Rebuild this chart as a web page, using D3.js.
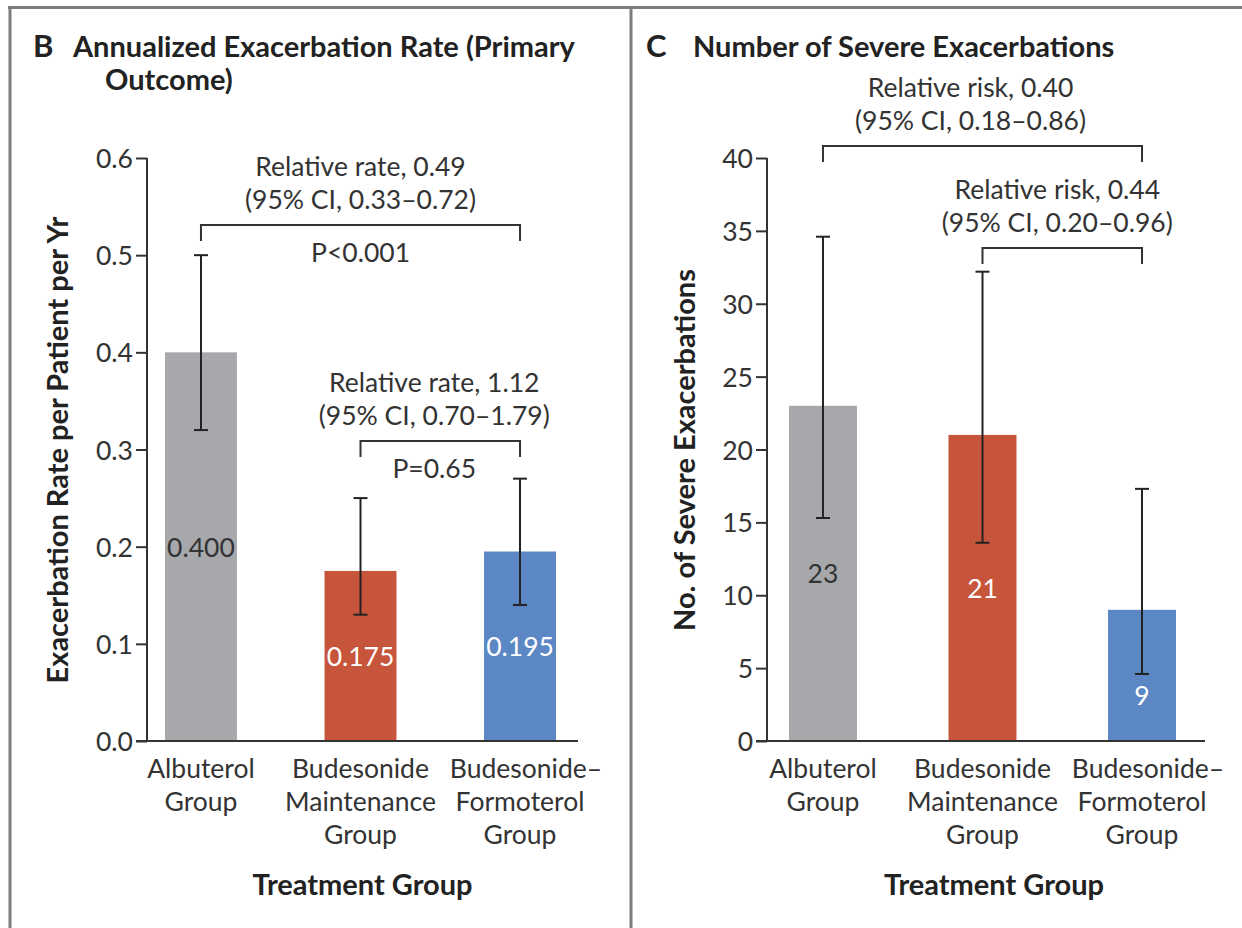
<!DOCTYPE html>
<html>
<head>
<meta charset="utf-8">
<script src="https://cdn.jsdelivr.net/npm/d3@7"></script>
<style>
  html, body { margin: 0; padding: 0; background: #fff; }
  svg { display: block; font-family: Lato, "Open Sans", sans-serif; }
</style>
</head>
<body>
<svg id="chart" width="1242" height="928"></svg>
<script>
// ---------- DATA ----------
const categories = [
  ["Albuterol", "Group"],
  ["Budesonide", "Maintenance", "Group"],
  ["Budesonide\u2013", "Formoterol", "Group"]
];
const categoryKeys = ["Albuterol", "Budesonide Maintenance", "Budesonide-Formoterol"];

const rateValues = [0.400, 0.175, 0.195];
const rateLow = [0.32, 0.13, 0.14];
const rateHigh = [0.50, 0.25, 0.27];
const rateLabels = ["0.400", "0.175", "0.195"];
const rateTicks = [0.0, 0.1, 0.2, 0.3, 0.4, 0.5, 0.6];
const rateTickLabels = ["0.0", "0.1", "0.2", "0.3", "0.4", "0.5", "0.6"];

const countValues = [23, 21, 9];
const countLow = [15.3, 13.6, 4.6];
const countHigh = [34.6, 32.2, 17.3];
const countLabels = ["23", "21", "9"];
const countTicks = [0, 5, 10, 15, 20, 25, 30, 35, 40];
const countTickLabels = ["0", "5", "10", "15", "20", "25", "30", "35", "40"];

const barColors = ["#a7a8ac", "#c6553b", "#5b87c4"];
const labelColors = ["#333333", "#ffffff", "#ffffff"];

const rateComparisons = [
  { from: 0, to: 2, lines: ["Relative rate, 0.49", "(95% CI, 0.33\u20130.72)"], p: "P<0.001" },
  { from: 1, to: 2, lines: ["Relative rate, 1.12", "(95% CI, 0.70\u20131.79)"], p: "P=0.65" }
];
const countComparisons = [
  { from: 0, to: 2, lines: ["Relative risk, 0.40", "(95% CI, 0.18\u20130.86)"], p: null },
  { from: 1, to: 2, lines: ["Relative risk, 0.44", "(95% CI, 0.20\u20130.96)"], p: null }
];

// ---------- DRAW ----------
const svg = d3.select("#chart");
const ink = "#333333";
const FS = 26.5;

// panel frame lines
svg.append("line").attr("x1", 8).attr("x2", 1242).attr("y1", 7.5).attr("y2", 7.5)
  .attr("stroke", "#7d7d7d").attr("stroke-width", 3);
svg.append("line").attr("x1", 10).attr("x2", 10).attr("y1", 6).attr("y2", 928)
  .attr("stroke", "#7d7d7d").attr("stroke-width", 3);
svg.append("line").attr("x1", 631).attr("x2", 631).attr("y1", 6).attr("y2", 928)
  .attr("stroke", "#7d7d7d").attr("stroke-width", 3);

function panel(cfg) {
  const g = svg.append("g");
  const y = d3.scaleLinear().domain(cfg.domain).range([741, 158]);
  const x = d3.scaleBand().domain(categoryKeys)
    .range(cfg.barRange).paddingInner(cfg.padInner).paddingOuter(0);

  // title
  const t = g.append("text").attr("fill", "#222").attr("font-weight", 700).attr("font-size", 29);
  t.append("tspan").attr("x", cfg.letterX).attr("y", 57).attr("font-size", 31).text(cfg.letter);
  cfg.title.forEach((line, i) => {
    t.append("tspan").attr("x", i === 0 ? cfg.titleX : cfg.titleX2).attr("y", 57 + i * 33).text(line);
  });

  // y axis
  const yAxis = d3.axisLeft(y).tickValues(cfg.ticks)
    .tickFormat((d, i) => cfg.tickLabels[i]).tickSize(11).tickPadding(3);
  const ya = g.append("g").attr("transform", `translate(${cfg.axisX},0)`).call(yAxis);
  ya.select(".domain").attr("stroke", ink).attr("stroke-width", 2)
    .attr("d", `M0,${y(cfg.domain[1])}V${y(0)}`);
  ya.selectAll(".tick line").attr("stroke", ink).attr("stroke-width", 2);
  ya.selectAll(".tick text").attr("fill", ink).attr("font-size", FS)
    .attr("font-family", "Lato, sans-serif").attr("dy", "0.36em");

  // bars
  g.selectAll("rect.bar").data(cfg.values).join("rect").attr("class", "bar")
    .attr("x", (d, i) => x(categoryKeys[i])).attr("width", x.bandwidth())
    .attr("y", d => y(d)).attr("height", d => y(0) - y(d))
    .attr("fill", (d, i) => barColors[i]);
  // baseline over bars
  g.append("line").attr("x1", cfg.axisX - 11).attr("x2", cfg.axisEnd)
    .attr("y1", y(0)).attr("y2", y(0)).attr("stroke", ink).attr("stroke-width", 2);

  // error bars
  const cx = i => x(categoryKeys[i]) + x.bandwidth() / 2;
  cfg.values.forEach((v, i) => {
    const eg = g.append("g").attr("stroke", "#222").attr("stroke-width", 2);
    eg.append("line").attr("x1", cx(i)).attr("x2", cx(i)).attr("y1", y(cfg.low[i])).attr("y2", y(cfg.high[i]));
    eg.append("line").attr("x1", cx(i) - 7).attr("x2", cx(i) + 7).attr("y1", y(cfg.low[i])).attr("y2", y(cfg.low[i]));
    eg.append("line").attr("x1", cx(i) - 7).attr("x2", cx(i) + 7).attr("y1", y(cfg.high[i])).attr("y2", y(cfg.high[i]));
  });

  // value labels inside bars
  cfg.values.forEach((v, i) => {
    let ly = (y(0) + y(v)) / 2 + 10;
    if (y(cfg.low[i]) > ly - 22) ly = y(cfg.low[i]) + 31;
    g.append("text").attr("x", cx(i)).attr("y", ly).attr("text-anchor", "middle")
      .attr("font-size", FS).attr("fill", labelColors[i]).text(cfg.labels[i]);
  });

  // category labels
  categories.forEach((lines, i) => {
    const tt = g.append("text").attr("text-anchor", "middle").attr("font-size", FS).attr("fill", ink);
    lines.forEach((l, j) => tt.append("tspan").attr("x", cx(i) + (j === 0 && i === 2 ? 6 : 0))
      .attr("y", 778 + j * 33).text(l));
  });

  // axis titles
  g.append("text").attr("x", (cfg.axisX + cfg.axisEnd) / 2 + cfg.xTitleShift).attr("y", 895)
    .attr("text-anchor", "middle").attr("font-weight", 700).attr("font-size", 29).attr("fill", "#222")
    .text("Treatment Group");
  g.append("text").attr("transform", `translate(${cfg.yTitleX},${450}) rotate(-90)`)
    .attr("text-anchor", "middle").attr("font-weight", 700).attr("font-size", 29).attr("fill", "#222")
    .text(cfg.yTitle);

  // comparison brackets
  cfg.comparisons.forEach((c, k) => {
    const by = cfg.bracketY[k];
    const x1 = cx(c.from), x2 = cx(c.to);
    g.append("path").attr("fill", "none").attr("stroke", ink).attr("stroke-width", 2)
      .attr("d", `M${x1},${by + 16}V${by}H${x2}V${by + 16}`);
    const mid = (x1 + x2) / 2 + cfg.textShift[k];
    const tt = g.append("text").attr("text-anchor", "middle").attr("font-size", FS).attr("fill", ink);
    c.lines.forEach((l, j) => tt.append("tspan").attr("x", mid).attr("y", by - 49 + j * 33).text(l));
    if (c.p) {
      g.append("text").attr("x", mid).attr("y", by + 37).attr("text-anchor", "middle")
        .attr("font-size", FS).attr("fill", ink).text(c.p);
    }
  });
}

panel({
  letter: "B", letterX: 33, titleX: 73, titleX2: 105,
  title: ["Annualized Exacerbation Rate (Primary", "Outcome)"],
  domain: [0, 0.6], ticks: rateTicks, tickLabels: rateTickLabels,
  values: rateValues, low: rateLow, high: rateHigh, labels: rateLabels,
  axisX: 147, axisEnd: 578, barRange: [165, 556], padInner: 0.549,
  yTitle: "Exacerbation Rate per Patient per Yr", yTitleX: 68, xTitleShift: 0,
  comparisons: rateComparisons, bracketY: [225, 441], textShift: [0, -6]
});

panel({
  letter: "C", letterX: 646, titleX: 693, titleX2: 693,
  title: ["Number of Severe Exacerbations"],
  domain: [0, 40], ticks: countTicks, tickLabels: countTickLabels,
  values: countValues, low: countLow, high: countHigh, labels: countLabels,
  axisX: 767, axisEnd: 1205, barRange: [789, 1176], padInner: 0.574,
  yTitle: "No. of Severe Exacerbations", yTitleX: 695, xTitleShift: 8,
  comparisons: countComparisons, bracketY: [146, 248], textShift: [-12, -5]
});
</script>
</body>
</html>
